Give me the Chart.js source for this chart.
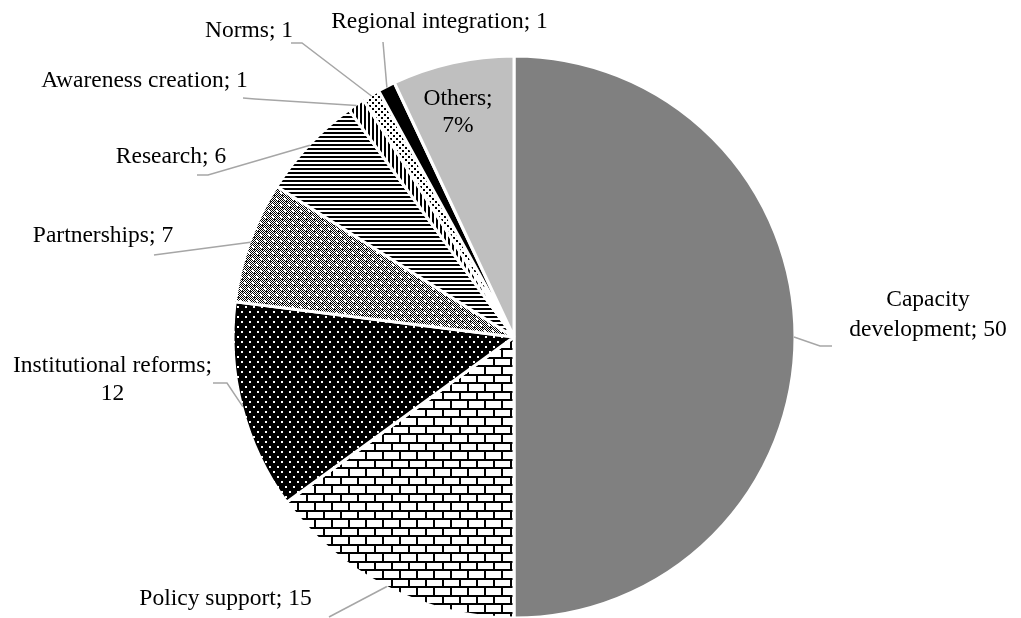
<!DOCTYPE html>
<html>
<head>
<meta charset="utf-8">
<script src="https://cdn.jsdelivr.net/npm/chart.js@4/dist/chart.umd.min.js"></script>
<style>
  html, body { margin: 0; padding: 0; background: #fff; }
  #wrap { width: 1021px; height: 618px; position: relative; }
</style>
</head>
<body>
<div id="wrap"><canvas id="pieChart"></canvas></div>
<script>
// Areas of intervention, share of projects
const categories = ['Capacity development', 'Policy support', 'Institutional reforms', 'Partnerships',
  'Research', 'Awareness creation', 'Norms', 'Regional integration', 'Others'];
const shares = [50, 15, 12, 7, 6, 1, 1, 1, 7];
const percentLabel = [false, false, false, false, false, false, false, false, true];

// Label placement, offsets from the pie centre (px); split = words on the first line
const labelPlacement = [
  { text: [414, -31], lh: 30, split: 1, leader: [[306, 9], [318, 9]] },
  { text: [-288.5, 268], leader: [[-185, 280]] },
  { text: [-401.5, 34.7], lh: 28, split: 2, leader: [[-287, 46], [-301, 46]] },
  { text: [-411, -95.3], leader: [[-360, -82]] },
  { text: [-343, -174.3], leader: [[-306, -162], [-317, -162]] },
  { text: [-369.5, -249.7], leader: [[-259, -238], [-271, -239]] },
  { text: [-265, -300.3], leader: [[-212, -294], [-223, -294]] },
  { text: [-74.5, -309], leader: [[-131, -295]] },
  { text: [-56, -232], lh: 27, split: 1 }
];

const canvas = document.getElementById('pieChart');
const mainCtx = canvas.getContext('2d');

function makePattern(w, h, draw) {
  const tile = document.createElement('canvas');
  tile.width = w;
  tile.height = h;
  const g = tile.getContext('2d');
  draw(g);
  return mainCtx.createPattern(tile, 'repeat');
}

// Brick
const brick = makePattern(17, 17, g => {
  g.fillStyle = '#fff'; g.fillRect(0, 0, 17, 17);
  g.fillStyle = '#000';
  g.fillRect(0, 0, 17, 2);
  g.fillRect(0, 8, 17, 2);
  g.fillRect(0, 0, 2, 9);
  g.fillRect(8, 8, 2, 9);
});
// White dots on black
const darkDots = makePattern(8, 10, g => {
  g.fillStyle = '#000'; g.fillRect(0, 0, 8, 10);
  g.fillStyle = '#fff';
  g.fillRect(1, 1, 2, 2);
  g.fillRect(5, 6, 2, 2);
});
// Fine checker with white dots
const checkerDots = makePattern(8, 12, g => {
  g.fillStyle = '#fff'; g.fillRect(0, 0, 8, 12);
  g.fillStyle = '#000';
  for (let y = 0; y < 12; y++) {
    for (let x = 0; x < 8; x++) {
      if ((x + y) % 2 === 0) g.fillRect(x, y, 1, 1);
    }
  }
  g.fillStyle = '#3a3a3a';
  g.fillRect(2, 3, 1, 1);
  g.fillRect(6, 9, 1, 1);
  g.fillStyle = '#fff';
  g.fillRect(0, 0, 2, 2);
  g.fillRect(4, 6, 2, 2);
});
// Horizontal stripes
const hStripes = makePattern(4, 4, g => {
  g.fillStyle = '#fff'; g.fillRect(0, 0, 4, 4);
  g.fillStyle = '#000'; g.fillRect(0, 0, 4, 2);
});
// Vertical stripes
const vStripes = makePattern(4, 4, g => {
  g.fillStyle = '#fff'; g.fillRect(0, 0, 4, 4);
  g.fillStyle = '#000'; g.fillRect(0, 0, 2, 4);
});
// Small black dots
const smallDots = makePattern(6, 6, g => {
  g.fillStyle = '#fff'; g.fillRect(0, 0, 6, 6);
  g.fillStyle = '#000';
  g.fillRect(0, 0, 2, 2);
  g.fillRect(3, 3, 2, 2);
});

const fills = ['#808080', brick, darkDots, checkerDots, hStripes, vStripes, smallDots, '#000000', '#bfbfbf'];

function labelLines(i) {
  const text = categories[i] + '; ' + shares[i] + (percentLabel[i] ? '%' : '');
  const split = labelPlacement[i].split;
  if (!split) return [text];
  const words = text.split(' ');
  return [words.slice(0, split).join(' '), words.slice(split).join(' ')];
}

// Leader lines and outside labels
const leaderLabels = {
  id: 'leaderLabels',
  afterDatasetsDraw(chart) {
    const ctx = chart.ctx;
    const meta = chart.getDatasetMeta(0);
    ctx.save();
    meta.data.forEach((arc, i) => {
      const p = arc.getProps(['x', 'y', 'startAngle', 'endAngle', 'outerRadius'], true);
      const place = labelPlacement[i];
      const mid = (p.startAngle + p.endAngle) / 2;
      const r = p.outerRadius - 1;
      if (place.leader) {
        ctx.beginPath();
        ctx.moveTo(p.x + Math.cos(mid) * r, p.y + Math.sin(mid) * r);
        place.leader.forEach(([dx, dy]) => ctx.lineTo(p.x + dx, p.y + dy));
        ctx.strokeStyle = '#a6a6a6';
        ctx.lineWidth = 1.5;
        ctx.stroke();
      }
      ctx.fillStyle = '#000';
      ctx.font = '23.5px "Liberation Serif", "Times New Roman", serif';
      ctx.textAlign = 'center';
      ctx.textBaseline = 'alphabetic';
      labelLines(i).forEach((line, k) => {
        ctx.fillText(line, p.x + place.text[0], p.y + place.text[1] + k * (place.lh || 0));
      });
    });
    ctx.restore();
  }
};

new Chart(mainCtx, {
  type: 'pie',
  data: {
    labels: categories,
    datasets: [{
      data: shares,
      backgroundColor: fills,
      borderColor: '#ffffff',
      borderWidth: 3,
      radius: 281
    }]
  },
  options: {
    responsive: true,
    maintainAspectRatio: false,
    animation: false,
    layout: { padding: { left: 214, right: 207, top: 56, bottom: 0 } },
    plugins: {
      legend: { display: false },
      tooltip: { enabled: false }
    }
  },
  plugins: [leaderLabels]
});
</script>
</body>
</html>
